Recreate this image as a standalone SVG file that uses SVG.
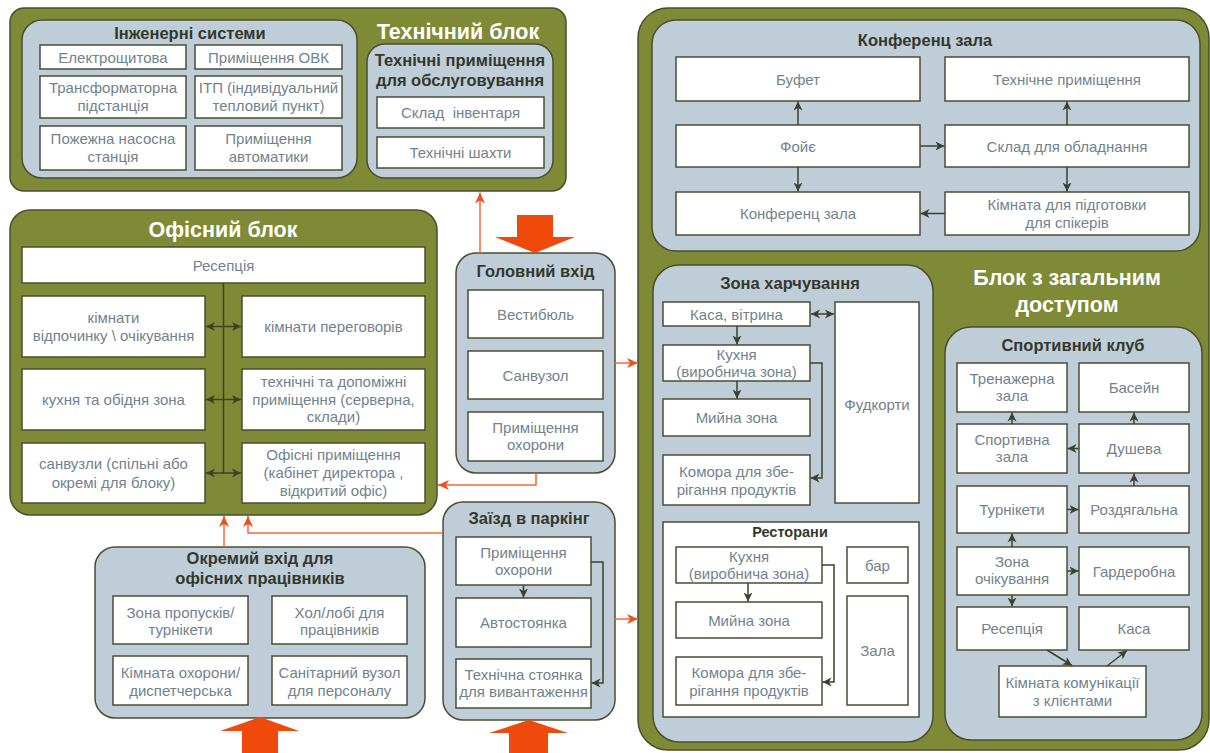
<svg xmlns="http://www.w3.org/2000/svg" width="1210" height="753" viewBox="0 0 1210 753">
<defs>
<style>
.g{fill:#7f8a36;stroke:#4a4e30;stroke-width:1.5}
.p{fill:#bfcdd8;stroke:#4a4e30;stroke-width:1.5}
.b{fill:#fff;stroke:#4a4e30;stroke-width:1.5}
.t{font-family:"Liberation Sans",Arial,sans-serif;font-size:15px;fill:#71838d;text-anchor:middle}
.h{font-family:"Liberation Sans",Arial,sans-serif;font-size:16.5px;font-weight:bold;fill:#34382b;text-anchor:middle}
.w{font-family:"Liberation Sans",Arial,sans-serif;font-size:21.5px;font-weight:bold;fill:#fff;text-anchor:middle}
.c{fill:none;stroke:#3c402c;stroke-width:1.5}
.o{fill:none;stroke:#f2683a;stroke-width:1.5}
.big{fill:#ef4a0c}
</style>
<marker id="ad" markerUnits="userSpaceOnUse" markerWidth="10" markerHeight="10" refX="9" refY="5" orient="auto-start-reverse"><path d="M0,0.5 L9,5 L0,9.5 L2.5,5 Z" fill="#3c402c"/></marker>
<marker id="ao" markerUnits="userSpaceOnUse" markerWidth="12" markerHeight="12" refX="11" refY="6" orient="auto-start-reverse"><path d="M0,1 L11,6 L0,11 L3,6 Z" fill="#f0501e"/></marker>
</defs>

<!-- Technical block -->
<g id="tech-block">
<rect class="g" x="10" y="8" width="556" height="183" rx="14"/>
<text class="w" x="458" y="39">Технічний блок</text>
</g>
<g id="eng-systems">
<rect class="p" x="22" y="20" width="335" height="158" rx="20"/>
<text class="h" x="190" y="39">Інженерні системи</text>
</g>
<g id="n-elektro"><rect class="b" x="40" y="45" width="146" height="24"/><text class="t" x="113" y="62.5">Електрощитова</text></g>
<g id="n-ovk"><rect class="b" x="195" y="45" width="147" height="24"/><text class="t" x="268.5" y="62.5">Приміщення ОВК</text></g>
<g id="n-transf"><rect class="b" x="40" y="76" width="146" height="42"/><text class="t" x="113" y="93">Трансформаторна</text><text class="t" x="113" y="111">підстанція</text></g>
<g id="n-itp"><rect class="b" x="195" y="76" width="147" height="42"/><text class="t" x="268.5" y="93">ІТП (індивідуальний</text><text class="t" x="268.5" y="111">тепловий пункт)</text></g>
<g id="n-pozh"><rect class="b" x="40" y="126" width="146" height="44"/><text class="t" x="113" y="144">Пожежна насосна</text><text class="t" x="113" y="162">станція</text></g>
<g id="n-avtom"><rect class="b" x="195" y="126" width="147" height="44"/><text class="t" x="268.5" y="144">Приміщення</text><text class="t" x="268.5" y="162">автоматики</text></g>
<g id="tech-service">
<rect class="p" x="367" y="44" width="186" height="134" rx="18"/>
<text class="h" x="460" y="66">Технічні приміщення</text>
<text class="h" x="460" y="86">для обслуговування</text>
</g>
<g id="n-sklad-inv"><rect class="b" x="377" y="97" width="167" height="31"/><text class="t" x="460.5" y="118" xml:space="preserve">Склад  інвентаря</text></g>
<g id="n-shakhty"><rect class="b" x="377" y="137" width="167" height="31"/><text class="t" x="460.5" y="158">Технічні шахти</text></g>

<!-- Office block -->
<g id="office-block">
<rect class="g" x="10" y="210" width="427" height="305" rx="20"/>
<text class="w" x="223" y="237">Офісний блок</text>
</g>
<g id="n-off-recep"><rect class="b" x="22" y="247" width="403" height="36"/><text class="t" x="223.5" y="270.5">Ресепція</text></g>
<g id="n-off-rest"><rect class="b" x="22" y="296" width="183" height="61"/><text class="t" x="113.5" y="323">кімнати</text><text class="t" x="113.5" y="341">відпочинку \ очікування</text></g>
<g id="n-off-meet"><rect class="b" x="242" y="296" width="183" height="61"/><text class="t" x="333.5" y="332">кімнати переговорів</text></g>
<g id="n-off-kitchen"><rect class="b" x="22" y="369" width="183" height="61"/><text class="t" x="113.5" y="405">кухня та обідня зона</text></g>
<g id="n-off-tech"><rect class="b" x="242" y="369" width="183" height="61"/><text class="t" x="333.5" y="387">технічні та допоміжні</text><text class="t" x="333.5" y="404.5">приміщення (серверна,</text><text class="t" x="333.5" y="422">склади)</text></g>
<g id="n-off-wc"><rect class="b" x="22" y="443" width="183" height="60"/><text class="t" x="113.5" y="469">санвузли (спільні або</text><text class="t" x="113.5" y="488">окремі для блоку)</text></g>
<g id="n-off-offices"><rect class="b" x="242" y="443" width="183" height="60"/><text class="t" x="333.5" y="460">Офісні приміщення</text><text class="t" x="333.5" y="478">(кабінет директора ,</text><text class="t" x="333.5" y="496">відкритий офіс)</text></g>

<!-- Separate entrance -->
<g id="staff-entrance">
<rect class="p" x="95" y="547" width="330" height="171" rx="20"/>
<text class="h" x="260" y="564">Окремий вхід для</text>
<text class="h" x="260" y="584">офісних працівників</text>
</g>
<g id="n-propusk"><rect class="b" x="113" y="596" width="135" height="48"/><text class="t" x="180.5" y="618">Зона пропусків/</text><text class="t" x="180.5" y="635">турнікети</text></g>
<g id="n-hol"><rect class="b" x="272" y="596" width="135" height="48"/><text class="t" x="339.5" y="618">Хол/лобі для</text><text class="t" x="339.5" y="635">працівників</text></g>
<g id="n-okhor"><rect class="b" x="113" y="656" width="135" height="49"/><text class="t" x="180.5" y="678">Кімната охорони/</text><text class="t" x="180.5" y="696">диспетчерська</text></g>
<g id="n-sanit"><rect class="b" x="272" y="656" width="135" height="49"/><text class="t" x="339.5" y="678">Санітарний вузол</text><text class="t" x="339.5" y="696">для персоналу</text></g>

<!-- Main entrance -->
<g id="main-entrance">
<rect class="p" x="456" y="253" width="159" height="220" rx="20"/>
<text class="h" x="535.5" y="277">Головний вхід</text>
</g>
<g id="n-vestib"><rect class="b" x="468" y="290" width="135" height="48"/><text class="t" x="535.5" y="319.5">Вестибюль</text></g>
<g id="n-sanvuzol"><rect class="b" x="468" y="351" width="135" height="48"/><text class="t" x="535.5" y="380.5">Санвузол</text></g>
<g id="n-main-okhor"><rect class="b" x="468" y="412" width="135" height="49"/><text class="t" x="535.5" y="433">Приміщення</text><text class="t" x="535.5" y="450">охорони</text></g>

<!-- Parking -->
<g id="parking">
<rect class="p" x="443" y="502" width="172" height="218" rx="20"/>
<text class="h" x="529" y="524">Заїзд в паркінг</text>
</g>
<g id="n-park-okhor"><rect class="b" x="456" y="537" width="135" height="48"/><text class="t" x="523.5" y="558">Приміщення</text><text class="t" x="523.5" y="575">охорони</text></g>
<g id="n-avtost"><rect class="b" x="456" y="598" width="135" height="49"/><text class="t" x="523.5" y="628">Автостоянка</text></g>
<g id="n-tech-st"><rect class="b" x="456" y="659" width="135" height="49"/><text class="t" x="523.5" y="680">Технічна стоянка</text><text class="t" x="523.5" y="697">для вивантаження</text></g>

<!-- Public block -->
<g id="public-block">
<rect class="g" x="638" y="8" width="571" height="742" rx="30"/>
<text class="w" x="1067" y="285">Блок з загальним</text>
<text class="w" x="1067" y="312">доступом</text>
</g>
<g id="conference">
<rect class="p" x="652" y="20" width="548" height="231" rx="24"/>
<text class="h" x="925" y="46">Конференц зала</text>
</g>
<g id="n-bufet"><rect class="b" x="676" y="57" width="244" height="44"/><text class="t" x="798" y="84.5">Буфет</text></g>
<g id="n-tech-room"><rect class="b" x="945" y="57" width="244" height="44"/><text class="t" x="1067" y="84.5">Технічне приміщення</text></g>
<g id="n-foye"><rect class="b" x="676" y="125" width="244" height="42"/><text class="t" x="798" y="151.5">Фойє</text></g>
<g id="n-sklad-obl"><rect class="b" x="945" y="125" width="244" height="42"/><text class="t" x="1067" y="151.5">Склад для обладнання</text></g>
<g id="n-conf-hall"><rect class="b" x="676" y="192" width="244" height="43"/><text class="t" x="798" y="219">Конференц зала</text></g>
<g id="n-speakers"><rect class="b" x="945" y="192" width="244" height="43"/><text class="t" x="1067" y="210">Кімната для підготовки</text><text class="t" x="1067" y="227.5">для спікерів</text></g>

<g id="food-zone">
<rect class="p" x="653" y="265" width="280" height="477" rx="26"/>
<text class="h" x="790" y="289">Зона харчування</text>
</g>
<g id="n-kasa-vitr"><rect class="b" x="663" y="302" width="147" height="24"/><text class="t" x="736.5" y="319.5">Каса, вітрина</text></g>
<g id="n-food-kitchen"><rect class="b" x="663" y="345" width="147" height="36"/><text class="t" x="736.5" y="360">Кухня</text><text class="t" x="736.5" y="377">(виробнича зона)</text></g>
<g id="n-food-wash"><rect class="b" x="663" y="399" width="147" height="37"/><text class="t" x="736.5" y="423">Мийна зона</text></g>
<g id="n-food-store"><rect class="b" x="663" y="455" width="147" height="50"/><text class="t" x="736.5" y="477">Комора для збе-</text><text class="t" x="736.5" y="495">рігання продуктів</text></g>
<g id="n-foodcourt"><rect class="b" x="835" y="302" width="84" height="201"/><text class="t" x="877" y="410">Фудкорти</text></g>

<g id="restaurants">
<rect class="b" x="663" y="522" width="256" height="195"/>
<text class="h" x="790" y="537" style="font-size:14.5px">Ресторани</text>
</g>
<g id="n-rest-kitchen"><rect class="b" x="676" y="547" width="146" height="36"/><text class="t" x="749" y="562">Кухня</text><text class="t" x="749" y="579">(виробнича зона)</text></g>
<g id="n-bar"><rect class="b" x="847" y="547" width="61" height="36"/><text class="t" x="877.5" y="570.5">бар</text></g>
<g id="n-rest-wash"><rect class="b" x="676" y="602" width="146" height="36"/><text class="t" x="749" y="625.5">Мийна зона</text></g>
<g id="n-rest-store"><rect class="b" x="676" y="657" width="146" height="48"/><text class="t" x="749" y="678">Комора для збе-</text><text class="t" x="749" y="696">рігання продуктів</text></g>
<g id="n-zala"><rect class="b" x="847" y="596" width="61" height="109"/><text class="t" x="877.5" y="656">Зала</text></g>

<g id="sport-club">
<rect class="p" x="945" y="327" width="257" height="413" rx="26"/>
<text class="h" x="1073" y="351">Спортивний клуб</text>
</g>
<g id="n-trenazh"><rect class="b" x="957" y="363" width="110" height="49"/><text class="t" x="1012" y="384">Тренажерна</text><text class="t" x="1012" y="401">зала</text></g>
<g id="n-basein"><rect class="b" x="1079" y="363" width="110" height="49"/><text class="t" x="1134" y="393">Басейн</text></g>
<g id="n-sport-zala"><rect class="b" x="957" y="424" width="110" height="49"/><text class="t" x="1012" y="445">Спортивна</text><text class="t" x="1012" y="462">зала</text></g>
<g id="n-dush"><rect class="b" x="1079" y="424" width="110" height="49"/><text class="t" x="1134" y="454">Душева</text></g>
<g id="n-turn"><rect class="b" x="957" y="486" width="110" height="47"/><text class="t" x="1012" y="515">Турнікети</text></g>
<g id="n-rozd"><rect class="b" x="1079" y="486" width="110" height="47"/><text class="t" x="1134" y="515">Роздягальна</text></g>
<g id="n-ochik"><rect class="b" x="957" y="547" width="110" height="48"/><text class="t" x="1012" y="567">Зона</text><text class="t" x="1012" y="584">очікування</text></g>
<g id="n-garder"><rect class="b" x="1079" y="547" width="110" height="48"/><text class="t" x="1134" y="576.5">Гардеробна</text></g>
<g id="n-sport-recep"><rect class="b" x="957" y="607" width="110" height="43"/><text class="t" x="1012" y="634">Ресепція</text></g>
<g id="n-sport-kasa"><rect class="b" x="1079" y="607" width="110" height="43"/><text class="t" x="1134" y="634">Каса</text></g>
<g id="n-komun"><rect class="b" x="999" y="666" width="147" height="51"/><text class="t" x="1072.5" y="688">Кімната комунікації</text><text class="t" x="1072.5" y="706">з клієнтами</text></g>

<!-- Connectors -->
<g id="connectors">
<path class="c" d="M223.5,283 V473"/>
<path class="c" d="M206,326.5 H241" marker-start="url(#ad)" marker-end="url(#ad)"/>
<path class="c" d="M206,399.5 H241" marker-start="url(#ad)" marker-end="url(#ad)"/>
<path class="c" d="M206,473 H241" marker-start="url(#ad)" marker-end="url(#ad)"/>

<path class="c" d="M798,125 V101.5" marker-end="url(#ad)"/>
<path class="c" d="M798,167 V191.5" marker-end="url(#ad)"/>
<path class="c" d="M920,146 H944.5" marker-end="url(#ad)"/>
<path class="c" d="M1067,125 V101.5" marker-end="url(#ad)"/>
<path class="c" d="M1067,167 V191.5" marker-end="url(#ad)"/>
<path class="c" d="M945,213.5 H920.5" marker-end="url(#ad)"/>

<path class="c" d="M811,314 H834" marker-start="url(#ad)" marker-end="url(#ad)"/>
<path class="c" d="M737,326 V344.5" marker-end="url(#ad)"/>
<path class="c" d="M737,381 V398.5" marker-end="url(#ad)"/>
<path class="c" d="M810,363 H822 V478 H810.5" marker-end="url(#ad)"/>
<path class="c" d="M748,583 V601.5" marker-end="url(#ad)"/>
<path class="c" d="M822,565 H834 V682 H822.5" marker-end="url(#ad)"/>

<path class="c" d="M523.5,585 V597.5" marker-end="url(#ad)"/>
<path class="c" d="M591,562 H603 V683 H591.5" marker-end="url(#ad)"/>

<path class="c" d="M1012,424 V412.5" marker-end="url(#ad)"/>
<path class="c" d="M1134,424 V412.5" marker-end="url(#ad)"/>
<path class="c" d="M1079,448.5 H1067.5" marker-end="url(#ad)"/>
<path class="c" d="M1134,486 V473.5" marker-end="url(#ad)"/>
<path class="c" d="M1067,509.5 H1078.5" marker-end="url(#ad)"/>
<path class="c" d="M1012,547 V533.5" marker-end="url(#ad)"/>
<path class="c" d="M1067,571 H1078.5" marker-end="url(#ad)"/>
<path class="c" d="M1012,595 V606.5" marker-end="url(#ad)"/>
<path class="c" d="M1047,650 L1072,665.5" marker-end="url(#ad)"/>
<path class="c" d="M1107,666 L1127,650.5" marker-end="url(#ad)"/>

<path class="o" d="M480,253 V192.5" marker-end="url(#ao)"/>
<path class="o" d="M536,473 V485 H438" marker-end="url(#ao)"/>
<path class="o" d="M615,363 H638" marker-end="url(#ao)"/>
<path class="o" d="M615,619 H638" marker-end="url(#ao)"/>
<path class="o" d="M443,533 H248 V516" marker-end="url(#ao)"/>
<path class="o" d="M224,547 V516" marker-end="url(#ao)"/>

<path class="big" d="M517,215 H553 V237 H575 L535,253 L495,237 H517 Z"/>
<path class="big" d="M242,753 V731 H220 L260,717 L299,731 H278 V753 Z"/>
<path class="big" d="M509,753 V733 H489 L529,720 L568,733 H548 V753 Z"/>
</g>
</svg>
